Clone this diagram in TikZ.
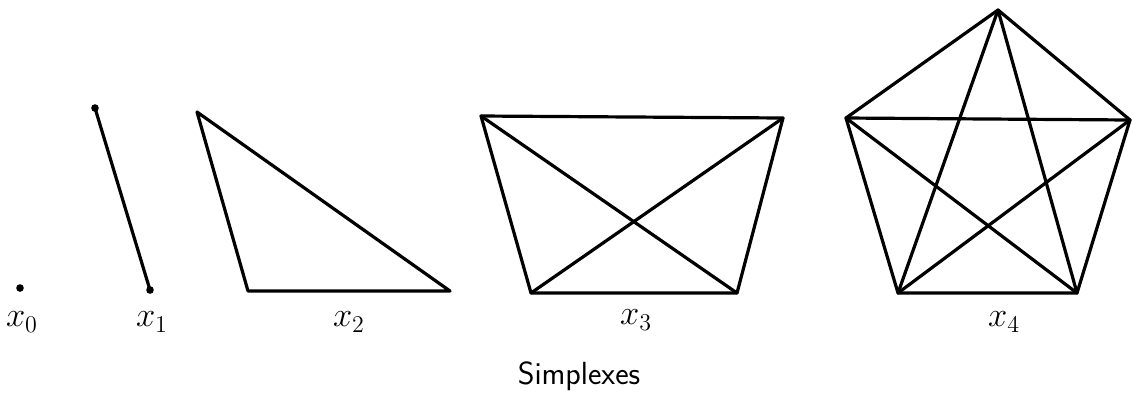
\documentclass[tikz,border=0pt]{standalone}
\usepackage{tikz}
\usetikzlibrary{positioning,calc}

\begin{document}
\begin{tikzpicture}[
  x=0.5pt, y=-0.5pt,
  edg/.style={draw, line width=1.6pt, line join=round, line cap=round},
  vtx/.style={circle, fill=black, inner sep=0pt, minimum size=3.8pt},
  lbl/.style={font=\fontsize{17}{19}\selectfont, inner sep=0pt},
  captxt/.style={font=\sffamily\fontsize{16}{18}\selectfont, inner sep=0pt},
]
\useasboundingbox (0,0) rectangle (1133,403);

% 0-simplex
\node[vtx] (p0) at (20,288) {};

% 1-simplex
\coordinate (a1) at (95,108);
\coordinate (b1) at (150,290);
\draw[edg] (a1) -- (b1);
\foreach \v in {a1,b1} { \node[vtx] at (\v) {}; }

% 2-simplex
\coordinate (a2) at (197,112);
\coordinate (b2) at (248,291);
\coordinate (c2) at (450,291);
\draw[edg] (a2) -- (b2) -- (c2) -- cycle;

% 3-simplex
\coordinate (a3) at (481,116);
\coordinate (b3) at (783,118);
\coordinate (c3) at (737,293);
\coordinate (d3) at (531,293);
\draw[edg] (a3) -- (b3) -- (c3) -- (d3) -- cycle;
\draw[edg] (a3) -- (c3);
\draw[edg] (b3) -- (d3);

% 4-simplex
\coordinate (v0) at (998,10);
\coordinate (v1) at (1130,120);
\coordinate (v2) at (1077,293);
\coordinate (v3) at (898,293);
\coordinate (v4) at (846,118);
\draw[edg] (v0) -- (v1) -- (v2) -- (v3) -- (v4) -- cycle;
\foreach \s/\t in {v0/v2,v0/v3,v1/v3,v1/v4,v2/v4} { \draw[edg] (\s) -- (\t); }

% labels
\node[lbl] (l0) at (22,322) {$x_0$};
\node[lbl] (l1) at (152,322) {$x_1$};
\node[lbl] (l2) at (349,322) {$x_2$};
\node[lbl] (l3) at (636,320) {$x_3$};
\node[lbl] (l4) at (1004,322) {$x_4$};
\node[captxt] (title) at (579,376) {Simplexes};
\end{tikzpicture}
\end{document}
